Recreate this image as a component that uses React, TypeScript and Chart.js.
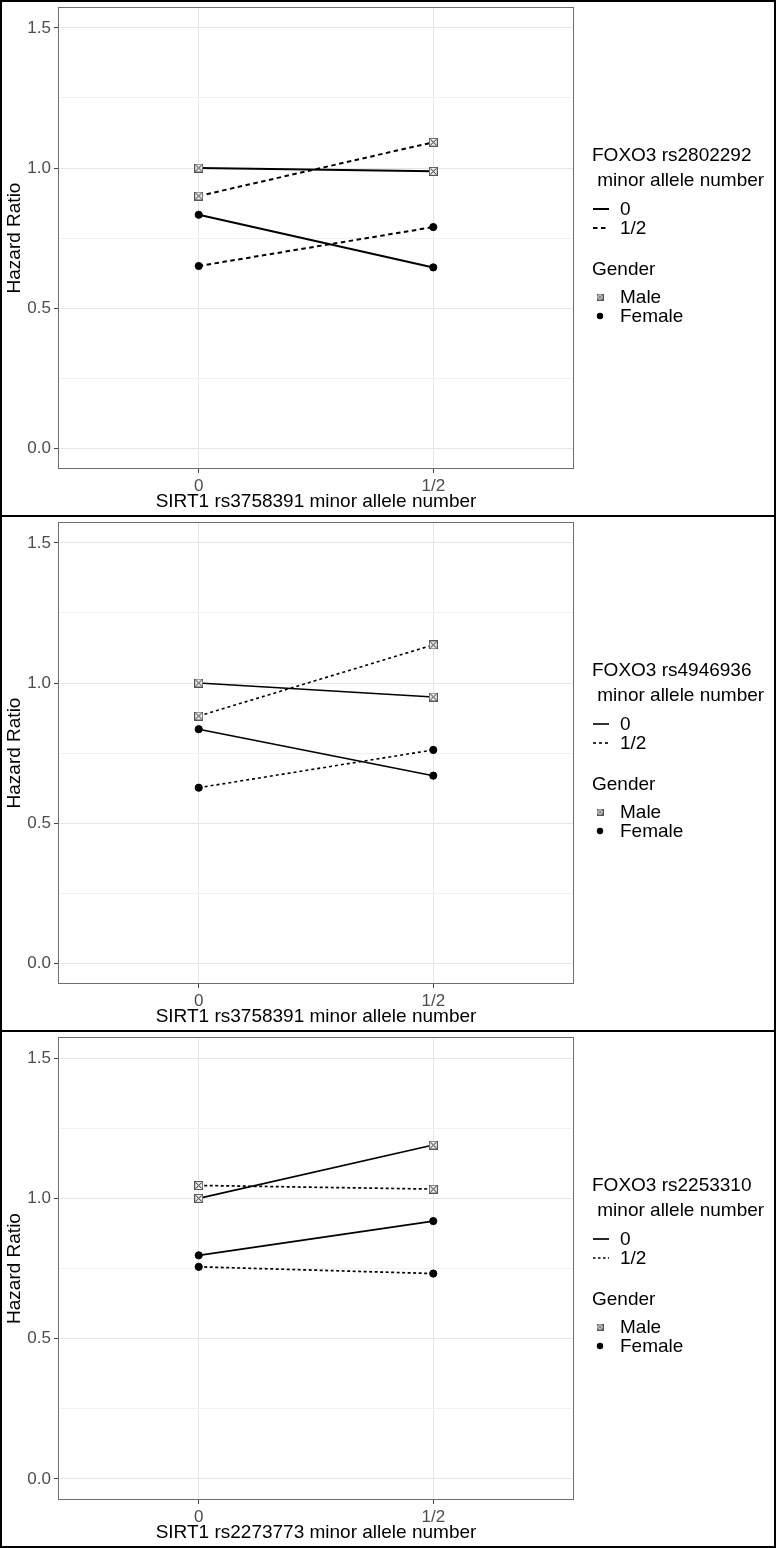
import React, { useEffect, useRef } from 'react';
import { Chart, registerables } from 'chart.js';

Chart.register(...registerables);

const FONT = '"Liberation Sans", Arial, sans-serif';

// ---------- data ----------
const categories = ['0', '1/2'];
const yTickValues = [0, 0.25, 0.5, 0.75, 1.0, 1.25, 1.5];
const lineLevels = ['0', '1/2'];
const genders = ['Male', 'Female'];

const p1Title = 'FOXO3 rs2802292';
const p1XTitle = 'SIRT1 rs3758391 minor allele number';
const p1Male0 = [1.0, 0.988];
const p1Male12 = [0.9, 1.092];
const p1Female0 = [0.833, 0.645];
const p1Female12 = [0.65, 0.789];

const p2Title = 'FOXO3 rs4946936';
const p2XTitle = 'SIRT1 rs3758391 minor allele number';
const p2Male0 = [1.0, 0.95];
const p2Male12 = [0.882, 1.136];
const p2Female0 = [0.835, 0.669];
const p2Female12 = [0.626, 0.761];

const p3Title = 'FOXO3 rs2253310';
const p3XTitle = 'SIRT1 rs2273773 minor allele number';
const p3Male0 = [1.0, 1.19];
const p3Male12 = [1.046, 1.033];
const p3Female0 = [0.797, 0.919];
const p3Female12 = [0.756, 0.732];

// ---------- helpers ----------
function makeBoxX(size: number): HTMLCanvasElement {
  const c = document.createElement('canvas');
  c.width = size;
  c.height = size;
  const g = c.getContext('2d')!;
  g.fillStyle = '#ececec';
  g.fillRect(0, 0, size, size);
  g.strokeStyle = '#555';
  g.lineWidth = 1;
  g.strokeRect(0.5, 0.5, size - 1, size - 1);
  g.strokeStyle = '#222';
  g.beginPath();
  g.moveTo(1.5, 1.5);
  g.lineTo(size - 1.5, size - 1.5);
  g.moveTo(size - 1.5, 1.5);
  g.lineTo(1.5, size - 1.5);
  g.stroke();
  return c;
}

const isMajor = (v: number) => Math.abs(v * 2 - Math.round(v * 2)) < 1e-9;

type PanelCfg = {
  title: string;
  xTitle: string;
  male0: number[];
  male12: number[];
  female0: number[];
  female12: number[];
  lw: number;
  dash: number[];
  legendDash: number[];
};

const panels: PanelCfg[] = [
  { title: p1Title, xTitle: p1XTitle, male0: p1Male0, male12: p1Male12, female0: p1Female0, female12: p1Female12, lw: 2, dash: [4.5, 3.5], legendDash: [4.5, 3.5] },
  { title: p2Title, xTitle: p2XTitle, male0: p2Male0, male12: p2Male12, female0: p2Female0, female12: p2Female12, lw: 1.6, dash: [3, 3], legendDash: [3, 3] },
  { title: p3Title, xTitle: p3XTitle, male0: p3Male0, male12: p3Male12, female0: p3Female0, female12: p3Female12, lw: 1.7, dash: [3, 2.5], legendDash: [2.5, 2.5] },
];

function Panel({ cfg, height }: { cfg: PanelCfg; height: number }) {
  const ref = useRef<HTMLCanvasElement>(null);
  useEffect(() => {
    const boxX = makeBoxX(9);
    const boxXSmall = makeBoxX(7);
    const toPts = (arr: number[]) => arr.map((y, i) => ({ x: i + 1, y }));
    const mk = (label: string, arr: number[], male: boolean, dashed: boolean) => ({
      label,
      data: toPts(arr),
      borderColor: '#000',
      backgroundColor: '#000',
      borderWidth: cfg.lw,
      borderDash: dashed ? cfg.dash : [],
      pointStyle: male ? (boxX as any) : 'circle',
      pointRadius: male ? 4.5 : 3.6,
      pointBorderWidth: male ? 0 : 1,
      pointBackgroundColor: '#000',
      pointBorderColor: '#000',
      tension: 0,
      fill: false,
    });

    const legendPlugin = {
      id: 'customLegend',
      afterDraw(chart: any) {
        const ctx = chart.ctx as CanvasRenderingContext2D;
        ctx.save();
        // panel border
        const a = chart.chartArea;
        ctx.strokeStyle = '#6e6e6e';
        ctx.lineWidth = 1;
        ctx.strokeRect(Math.round(a.left) + 0.5, Math.round(a.top) + 0.5, Math.round(a.right - a.left) - 1, Math.round(a.bottom - a.top) - 1);

        ctx.fillStyle = '#000';
        ctx.font = `19px ${FONT}`;
        ctx.textBaseline = 'middle';
        ctx.textAlign = 'left';
        const x0 = 590;
        ctx.fillText(cfg.title, x0, 154);
        ctx.fillText(' minor allele number', x0, 179);
        // line legend
        const ly = [207, 226];
        lineLevels.forEach((lab, i) => {
          ctx.beginPath();
          ctx.strokeStyle = '#000';
          ctx.lineWidth = cfg.lw;
          ctx.setLineDash(i === 0 ? [] : cfg.legendDash);
          ctx.moveTo(591, ly[i]);
          ctx.lineTo(607, ly[i]);
          ctx.stroke();
          ctx.setLineDash([]);
          ctx.fillText(lab, 618, ly[i] + 1);
        });
        ctx.fillText('Gender', x0, 268);
        const gy = [295, 314];
        genders.forEach((lab, i) => {
          if (i === 0) {
            ctx.drawImage(boxXSmall, 598 - 3.5, gy[i] - 3.5);
          } else {
            ctx.beginPath();
            ctx.arc(598, gy[i], 3.2, 0, Math.PI * 2);
            ctx.fill();
          }
          ctx.fillText(lab, 618, gy[i] + 1);
        });
        ctx.restore();
      },
    };

    const chart = new Chart(ref.current!, {
      type: 'line',
      data: {
        datasets: [
          mk('Male 0', cfg.male0, true, false),
          mk('Male 1/2', cfg.male12, true, true),
          mk('Female 0', cfg.female0, false, false),
          mk('Female 1/2', cfg.female12, false, true),
        ],
      },
      options: {
        responsive: false,
        animation: false,
        events: [],
        layout: { padding: { top: 5, right: 200, bottom: 0, left: 0 } },
        plugins: { legend: { display: false }, tooltip: { enabled: false } },
        scales: {
          x: {
            type: 'linear',
            min: 0.4,
            max: 2.6,
            afterBuildTicks: (scale: any) => {
              scale.ticks = categories.map((_, i) => ({ value: i + 1 }));
            },
            afterFit: (scale: any) => {
              scale.height = 46;
              scale.paddingLeft = 0;
              scale.paddingRight = 0;
            },
            ticks: {
              autoSkip: false,
              maxRotation: 0,
              padding: 3,
              color: '#4d4d4d',
              font: { family: FONT, size: 17 },
              callback: (v: any) => categories[Math.round(v) - 1] ?? '',
            },
            grid: {
              color: '#e6e6e6',
              lineWidth: 1,
              tickLength: 4,
              tickColor: '#444',
            },
            border: { display: false },
            title: {
              display: true,
              text: cfg.xTitle,
              color: '#000',
              font: { family: FONT, size: 19 },
              padding: { top: 0, bottom: 2 },
            },
          },
          y: {
            type: 'linear',
            min: -0.075,
            max: 1.575,
            afterBuildTicks: (scale: any) => {
              scale.ticks = yTickValues.map((v) => ({ value: v }));
            },
            afterFit: (scale: any) => {
              scale.width = 56;
              scale.paddingTop = 0;
              scale.paddingBottom = 0;
            },
            ticks: {
              autoSkip: false,
              padding: 3,
              color: '#4d4d4d',
              font: { family: FONT, size: 17 },
              callback: (v: any) => (isMajor(v) ? Number(v).toFixed(1) : ''),
            },
            grid: {
              color: (c: any) => (c.tick && isMajor(c.tick.value) ? '#e6e6e6' : '#f1f1f1'),
              lineWidth: 1,
              tickLength: 4,
              tickColor: (c: any) => (c.tick && isMajor(c.tick.value) ? '#444' : 'rgba(0,0,0,0)'),
            },
            border: { display: false },
            title: {
              display: true,
              text: 'Hazard Ratio',
              color: '#000',
              font: { family: FONT, size: 19 },
              padding: { top: 1, bottom: 0 },
            },
          },
        },
      } as any,
      plugins: [legendPlugin],
    });
    return () => chart.destroy();
  }, [cfg]);
  return <canvas ref={ref} width={772} height={height} style={{ display: 'block' }} />;
}

export default function App() {
  const heights = [513, 513, 514];
  return (
    <div
      style={{
        position: 'absolute',
        left: 0,
        top: 0,
        width: 776,
        height: 1548,
        boxSizing: 'border-box',
        border: '2px solid #000',
        background: '#fff',
        overflow: 'hidden',
      }}
    >
      {panels.map((p, i) => (
        <div key={i} style={{ borderTop: i === 0 ? 'none' : '2px solid #000' }}>
          <Panel cfg={p} height={heights[i]} />
        </div>
      ))}
    </div>
  );
}
